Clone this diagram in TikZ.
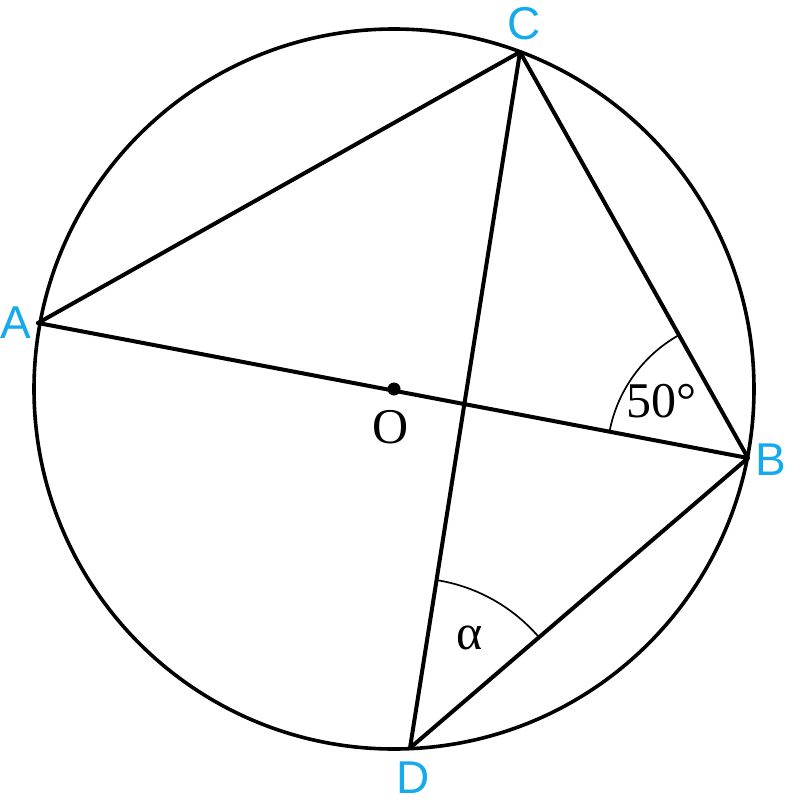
\documentclass[tikz,border=0pt]{standalone}
\usepackage{fontspec}
\setmainfont{Liberation Serif}
\newfontfamily\lblfont{Liberation Sans}
\usetikzlibrary{angles}
\definecolor{lblcyan}{RGB}{20,170,235}
\begin{document}
\begin{tikzpicture}[x=1pt,y=-1pt,
  thick line/.style={line width=4pt,line join=round,line cap=round},
  anglearc/.style={draw,line width=1.7pt},
  ptlabel/.style={text=lblcyan,font=\lblfont\fontsize{46}{46}\selectfont,inner sep=0pt},
  mathlabel/.style={font=\fontsize{50}{50}\selectfont,inner sep=0pt}]
\useasboundingbox (0,0) rectangle (792,806);
\coordinate (O) at (394,389);
\coordinate (A) at (38,323);
\coordinate (B) at (748,458);
\coordinate (C) at (520,52);
\coordinate (D) at (410,748);
\draw[line width=3.6pt] (O) circle[radius=360];
\draw[thick line] (A) -- (C) -- (B) -- (D) -- (C);
\draw[thick line] (A) -- (B);
\fill (O) circle[radius=6.5];
\pic[anglearc, angle radius=141pt] {angle = C--B--A};
\pic[anglearc, angle radius=170pt] {angle = B--D--C};
\node[mathlabel] (lO) at (391,427) {O};
\node[mathlabel] (l50) at (661,401) {50°};
\node[mathlabel] (lal) at (470,638) {α};
\node[ptlabel] (lA) at (16,323) {A};
\node[ptlabel] (lB) at (771,460) {B};
\node[ptlabel] (lC) at (524,24) {C};
\node[ptlabel] (lD) at (413,778) {D};
\end{tikzpicture}
\end{document}
